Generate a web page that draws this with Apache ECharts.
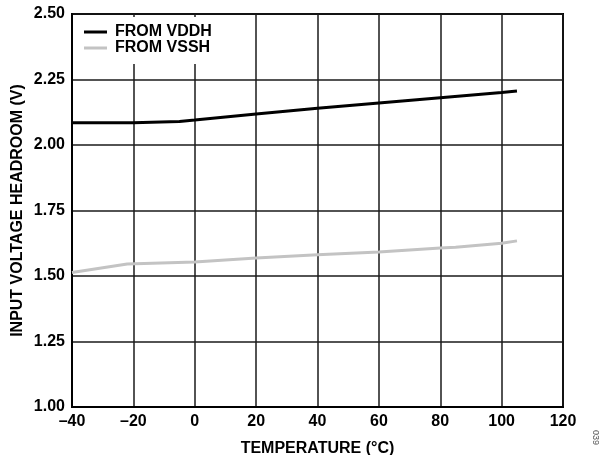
<!DOCTYPE html>
<html>
<head>
<meta charset="utf-8">
<script src="https://cdn.jsdelivr.net/npm/echarts@6/dist/echarts.min.js"></script>
<style>
html,body{margin:0;padding:0;background:#fff;}
#chart{width:605px;height:455px;}
</style>
</head>
<body>
<div id="chart"></div>
<script>
const seriesNames = ['FROM VDDH', 'FROM VSSH'];
const vddhTemp = [-40, -20, -5, 0, 20, 40, 60, 80, 100, 105];
const vddhVolt = [2.085, 2.085, 2.09, 2.095, 2.118, 2.14, 2.16, 2.18, 2.2, 2.206];
const vsshTemp = [-40, -22, 0, 20, 40, 60, 80, 85, 100, 105];
const vsshVolt = [1.513, 1.546, 1.553, 1.569, 1.581, 1.592, 1.607, 1.61, 1.625, 1.634];
const xTitle = 'TEMPERATURE (°C)';
const yTitle = 'INPUT VOLTAGE HEADROOM (V)';
const figId = '039';

const font = 'Liberation Sans, Arial, sans-serif';
const chart = echarts.init(document.getElementById('chart'), null, {renderer: 'canvas'});
const zip = (xs, ys) => xs.map((x, i) => [x, ys[i]]);

chart.setOption({
  animation: false,
  backgroundColor: '#fff',
  grid: {left: 72, top: 14, width: 491, height: 393, show: true, borderColor: '#000', borderWidth: 2,
    backgroundColor: 'transparent', containLabel: false, outerBoundsMode: 'none'},
  legend: {
    orient: 'vertical', left: 73, top: 17,
    padding: [7, 12, 8, 11], itemGap: 0,
    backgroundColor: '#fff',
    itemWidth: 23, itemHeight: 3, icon: 'rect',
    textStyle: {fontFamily: font, fontWeight: 'bold', fontSize: 16, color: '#000', padding: [0, 0, 0, 3], lineHeight: 15},
    data: seriesNames
  },
  xAxis: {
    type: 'value', min: -40, max: 120, interval: 20,
    name: xTitle, nameLocation: 'middle', nameGap: 34, nameMoveOverlap: false,
    nameTextStyle: {fontFamily: font, fontWeight: 'bold', fontSize: 16, color: '#000'},
    axisLine: {show: true, onZero: false, lineStyle: {color: '#000', width: 2}},
    axisTick: {show: false},
    axisLabel: {fontFamily: font, fontWeight: 'bold', fontSize: 16, color: '#000', margin: 7,
      formatter: v => String(v).replace('-', '\u2013')},
    splitLine: {show: true, lineStyle: {color: '#1a1a1a', width: 1.5}}
  },
  yAxis: {
    type: 'value', min: 1, max: 2.5, interval: 0.25,
    name: yTitle, nameLocation: 'middle', nameGap: 46, nameRotate: 90, nameMoveOverlap: false,
    nameTextStyle: {fontFamily: font, fontWeight: 'bold', fontSize: 16, color: '#000'},
    axisLine: {show: true, onZero: false, lineStyle: {color: '#000', width: 2}},
    axisTick: {show: false},
    axisLabel: {fontFamily: font, fontWeight: 'bold', fontSize: 16, color: '#000', margin: 7,
      formatter: v => v.toFixed(2)},
    splitLine: {show: true, lineStyle: {color: '#1a1a1a', width: 1.5}}
  },
  series: [
    {name: seriesNames[0], type: 'line', data: zip(vddhTemp, vddhVolt), showSymbol: false, symbol: 'none',
      lineStyle: {color: '#000', width: 3}, itemStyle: {color: '#000'}, z: 3},
    {name: seriesNames[1], type: 'line', data: zip(vsshTemp, vsshVolt), showSymbol: false, symbol: 'none',
      lineStyle: {color: '#c3c3c3', width: 3}, itemStyle: {color: '#c3c3c3'}, z: 3}
  ],
  graphic: [{
    type: 'text', left: 591, top: 430, rotation: -Math.PI / 2,
    style: {text: figId, fontFamily: font, fontSize: 9, fill: '#555'}
  }]
});
</script>
</body>
</html>
